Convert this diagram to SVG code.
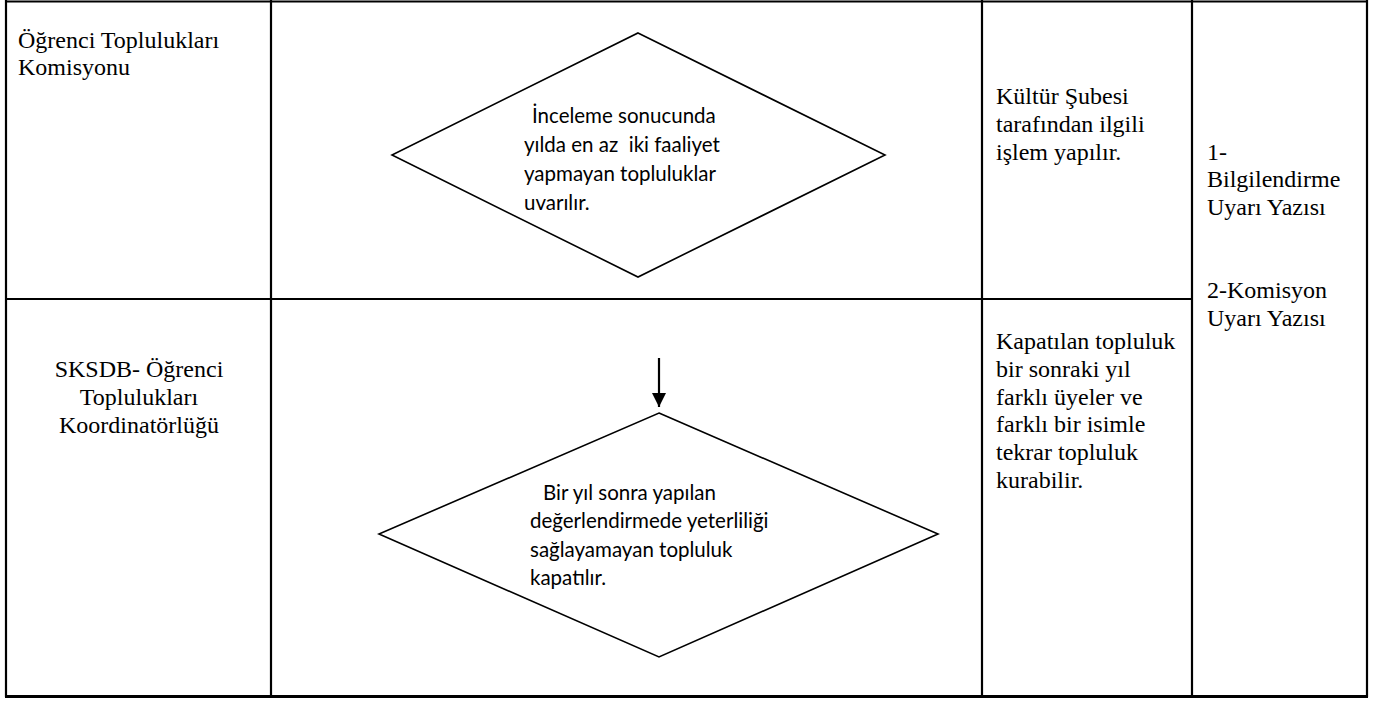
<svg xmlns="http://www.w3.org/2000/svg" width="1381" height="701" viewBox="0 0 1381 701">
<style>
.grid{stroke:#000;stroke-width:2.2;fill:none}
.dia{fill:#fff;stroke:#000;stroke-width:1.6}
.tm{font-family:"Liberation Serif","Times New Roman",serif;font-size:24px;fill:#000}
.cb{font-family:Lato,"Liberation Sans",sans-serif;font-size:20.5px;fill:#000}
.conn{stroke:#000;stroke-width:2.2;fill:none}
</style>
<defs>
<marker id="ah" viewBox="0 0 14 14" refX="14" refY="7" markerWidth="14" markerHeight="14" markerUnits="userSpaceOnUse" orient="auto">
<path d="M0,0 L14,7 L0,14 Z" fill="#000"/>
</marker>
</defs>
<rect width="1381" height="701" fill="#fff"/>
<g id="table">
<line class="grid" x1="6" y1="1.5" x2="1367" y2="1.5"/>
<line class="grid" x1="6" y1="0" x2="6" y2="697"/>
<line class="grid" x1="271" y1="0" x2="271" y2="697"/>
<line class="grid" x1="982" y1="0" x2="982" y2="697"/>
<line class="grid" x1="1192" y1="0" x2="1192" y2="697"/>
<line class="grid" x1="1367" y1="0" x2="1367" y2="697"/>
<line class="grid" x1="6" y1="299" x2="1192" y2="299"/>
<line x1="5" y1="696.5" x2="1368" y2="696.5" stroke="#000" stroke-width="3"/>
</g>
<g id="lane1-label">
<text class="tm" x="18" y="48">Öğrenci Toplulukları</text>
<text class="tm" x="18" y="75">Komisyonu</text>
</g>
<g id="lane2-label">
<text class="tm" x="139" y="377" text-anchor="middle">SKSDB- Öğrenci</text>
<text class="tm" x="139" y="405" text-anchor="middle">Toplulukları</text>
<text class="tm" x="139" y="433" text-anchor="middle">Koordinatörlüğü</text>
</g>
<g id="decision1">
<polygon class="dia" points="638,33 885,155 638,277 392,155"/>
<text class="cb" x="532" y="123">İnceleme sonucunda</text>
<text class="cb" x="524" y="152" xml:space="preserve">yılda en az  iki faaliyet</text>
<text class="cb" x="524" y="181">yapmayan topluluklar</text>
<text class="cb" x="524" y="210">uvarılır.</text>
</g>
<g id="decision2">
<polygon class="dia" points="659,413 938,534 659,657 379,534"/>
<text class="cb" x="543" y="500">Bir yıl sonra yapılan</text>
<text class="cb" x="530" y="528">değerlendirmede yeterliliği</text>
<text class="cb" x="530" y="557">sağlayamayan topluluk</text>
<text class="cb" x="530" y="585">kapatılır.</text>
</g>
<g id="note1">
<text class="tm" x="996" y="104">Kültür Şubesi</text>
<text class="tm" x="996" y="132">tarafından ilgili</text>
<text class="tm" x="996" y="160">işlem yapılır.</text>
</g>
<g id="note2">
<text class="tm" x="996" y="349">Kapatılan topluluk</text>
<text class="tm" x="996" y="377">bir sonraki yıl</text>
<text class="tm" x="996" y="405">farklı üyeler ve</text>
<text class="tm" x="996" y="432">farklı bir isimle</text>
<text class="tm" x="996" y="460">tekrar topluluk</text>
<text class="tm" x="996" y="488">kurabilir.</text>
</g>
<g id="documents">
<text class="tm" x="1207" y="160">1-</text>
<text class="tm" x="1207" y="187">Bilgilendirme</text>
<text class="tm" x="1207" y="215">Uyarı Yazısı</text>
<text class="tm" x="1207" y="298">2-Komisyon</text>
<text class="tm" x="1207" y="326">Uyarı Yazısı</text>
</g>
<g id="connectors">
<line class="conn" x1="659" y1="358" x2="659" y2="407" marker-end="url(#ah)"/>
</g>
</svg>
